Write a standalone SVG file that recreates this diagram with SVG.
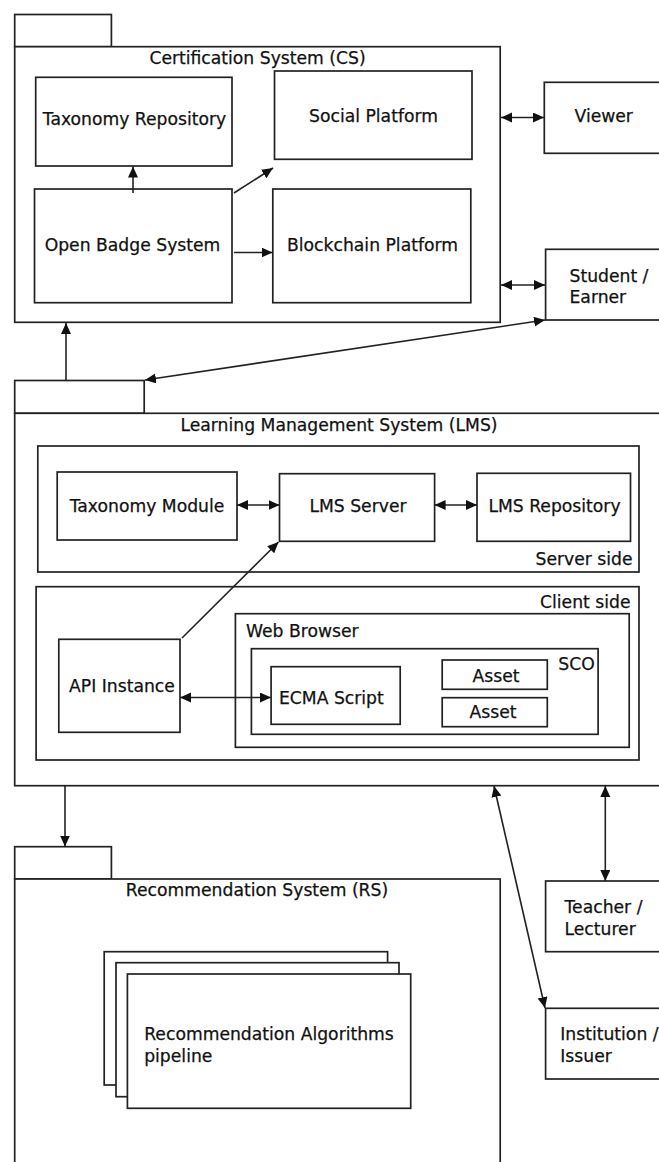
<svg xmlns="http://www.w3.org/2000/svg" width="659" height="1162" viewBox="0 0 659 1162">
<style>
  .box { fill: #ffffff; stroke: #222222; stroke-width: 1.7; }
  .t { font-family: "DejaVu Sans", "Liberation Sans", sans-serif; font-size: 17.2px; fill: #111111; stroke: #111111; stroke-width: 0.25; }
  .tc { text-anchor: middle; }
  .te { text-anchor: end; }
  .c { fill: none; stroke: #222222; stroke-width: 1.6; }
</style>
<defs>
  <marker id="ah" markerUnits="userSpaceOnUse" markerWidth="12" markerHeight="11" refX="11" refY="5" orient="auto-start-reverse">
    <path d="M0,0 L11,5 L0,10 z" fill="#111"/>
  </marker>
</defs>
<rect width="659" height="1162" fill="#ffffff"/>

<g id="cs">
  <rect class="box" x="14.7" y="14.5" width="96.7" height="32.2"/>
  <rect class="box" x="14.7" y="46.7" width="485.5" height="275.6"/>
  <text class="t tc" x="257.5" y="64">Certification System (CS)</text>
</g>
<g id="taxonomy-repository">
  <rect class="box" x="35.7" y="77.3" width="196.3" height="88.7"/>
  <text class="t tc" x="134.5" y="125">Taxonomy Repository</text>
</g>
<g id="social-platform">
  <rect class="box" x="274.5" y="71" width="197.5" height="88.3"/>
  <text class="t tc" x="373.5" y="122">Social Platform</text>
</g>
<g id="open-badge-system">
  <rect class="box" x="34.5" y="189" width="197.5" height="113.7"/>
  <text class="t tc" x="132.5" y="251">Open Badge System</text>
</g>
<g id="blockchain-platform">
  <rect class="box" x="272.8" y="189" width="198" height="113.7"/>
  <text class="t tc" x="372.5" y="251">Blockchain Platform</text>
</g>
<g id="viewer">
  <rect class="box" x="544.3" y="82.3" width="130" height="71"/>
  <text class="t" x="574.5" y="122">Viewer</text>
</g>
<g id="student-earner">
  <rect class="box" x="545.6" y="249.3" width="130" height="70.7"/>
  <text class="t" x="569.5" y="281.5">Student /</text>
  <text class="t" x="569.5" y="303">Earner</text>
</g>

<g id="lms">
  <rect class="box" x="14.7" y="380.5" width="129.5" height="32.8"/>
  <rect class="box" x="14.7" y="413.3" width="660" height="372.4"/>
  <text class="t tc" x="339" y="430.5">Learning Management System (LMS)</text>
</g>
<g id="server-side">
  <rect class="box" x="37.8" y="446" width="601.2" height="126"/>
  <text class="t te" x="632.6" y="565">Server side</text>
</g>
<g id="taxonomy-module">
  <rect class="box" x="57.2" y="472" width="179.8" height="68"/>
  <text class="t tc" x="147" y="511.5">Taxonomy Module</text>
</g>
<g id="lms-server">
  <rect class="box" x="279.5" y="473.7" width="155.1" height="67.6"/>
  <text class="t tc" x="358" y="511.5">LMS Server</text>
</g>
<g id="lms-repository">
  <rect class="box" x="477" y="473.3" width="153.5" height="68"/>
  <text class="t tc" x="554.5" y="511.5">LMS Repository</text>
</g>
<g id="client-side">
  <rect class="box" x="36.1" y="586.7" width="602.9" height="173.3"/>
  <text class="t te" x="630.5" y="608">Client side</text>
</g>
<g id="web-browser">
  <rect class="box" x="235.4" y="613.7" width="393.8" height="133.6"/>
  <text class="t" x="246" y="637">Web Browser</text>
</g>
<g id="sco">
  <rect class="box" x="251.4" y="648.7" width="346.7" height="85.6"/>
  <text class="t te" x="594.8" y="669.5">SCO</text>
</g>
<g id="ecma-script">
  <rect class="box" x="271.1" y="666.7" width="129.1" height="57.6"/>
  <text class="t" x="279" y="703.5">ECMA Script</text>
</g>
<g id="asset-1">
  <rect class="box" x="442.2" y="660" width="105.1" height="29.3"/>
  <text class="t tc" x="496" y="682">Asset</text>
</g>
<g id="asset-2">
  <rect class="box" x="442.2" y="697.7" width="105.1" height="29"/>
  <text class="t tc" x="493" y="718">Asset</text>
</g>
<g id="api-instance">
  <rect class="box" x="58.8" y="639.3" width="121.2" height="93"/>
  <text class="t tc" x="122" y="692">API Instance</text>
</g>

<g id="rs">
  <rect class="box" x="14.7" y="846.7" width="96.7" height="32.3"/>
  <rect class="box" x="14.7" y="879" width="485.5" height="300"/>
  <text class="t tc" x="257" y="896">Recommendation System (RS)</text>
</g>
<g id="recommendation-pipeline">
  <rect class="box" x="104.2" y="951.7" width="283.4" height="133.3"/>
  <rect class="box" x="116" y="962.7" width="283" height="134"/>
  <rect class="box" x="127.4" y="974" width="283.3" height="134.3"/>
  <text class="t" x="144.2" y="1040">Recommendation Algorithms</text>
  <text class="t" x="144.2" y="1062">pipeline</text>
</g>
<g id="teacher-lecturer">
  <rect class="box" x="545.6" y="881" width="130" height="70.7"/>
  <text class="t" x="564.5" y="913">Teacher /</text>
  <text class="t" x="564.5" y="935">Lecturer</text>
</g>
<g id="institution-issuer">
  <rect class="box" x="545.6" y="1008.3" width="130" height="70.7"/>
  <text class="t" x="560.3" y="1040">Institution /</text>
  <text class="t" x="560.3" y="1062">Issuer</text>
</g>

<g id="connectors">
  <line class="c" x1="133" y1="193" x2="133" y2="166.5" marker-end="url(#ah)"/>
  <line class="c" x1="234" y1="193" x2="273" y2="168" marker-end="url(#ah)"/>
  <line class="c" x1="234" y1="252.5" x2="272.5" y2="252.5" marker-end="url(#ah)"/>
  <line class="c" x1="501" y1="117.5" x2="544" y2="117.5" marker-start="url(#ah)" marker-end="url(#ah)"/>
  <line class="c" x1="501" y1="285" x2="545" y2="285" marker-start="url(#ah)" marker-end="url(#ah)"/>
  <line class="c" x1="545" y1="320" x2="145" y2="380" marker-start="url(#ah)" marker-end="url(#ah)"/>
  <line class="c" x1="66" y1="380.5" x2="66" y2="323" marker-end="url(#ah)"/>
  <line class="c" x1="237" y1="505" x2="279.5" y2="505" marker-start="url(#ah)" marker-end="url(#ah)"/>
  <line class="c" x1="434.6" y1="505" x2="477" y2="505" marker-start="url(#ah)" marker-end="url(#ah)"/>
  <line class="c" x1="182" y1="638" x2="278.5" y2="542" marker-end="url(#ah)"/>
  <line class="c" x1="180" y1="697.5" x2="271" y2="697.5" marker-start="url(#ah)" marker-end="url(#ah)"/>
  <line class="c" x1="65" y1="786" x2="65" y2="846.5" marker-end="url(#ah)"/>
  <line class="c" x1="494" y1="786" x2="545" y2="1008" marker-start="url(#ah)" marker-end="url(#ah)"/>
  <line class="c" x1="605.3" y1="786" x2="605.3" y2="881" marker-start="url(#ah)" marker-end="url(#ah)"/>
</g>
</svg>
